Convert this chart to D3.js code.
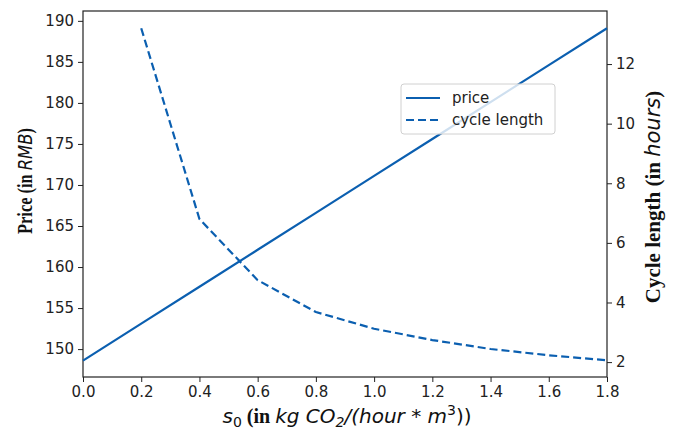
<!DOCTYPE html>
<html>
<head>
<meta charset="utf-8">
<script src="https://cdn.jsdelivr.net/npm/d3@7/dist/d3.min.js"></script>
<style>
  body { margin: 0; background: #fff; }
  svg { display: block; }
  .tick text { font-family: "DejaVu Sans", sans-serif; font-size: 15px; fill: #222; }
  .domain, .tick line { stroke: #222; }
</style>
</head>
<body>
<div id="chart"></div>
<script>
const s0 = [0.0, 0.2, 0.4, 0.6, 0.8, 1.0, 1.2, 1.4, 1.6, 1.8];
const price = [148.6, 153.1, 157.6, 162.1, 166.6, 171.1, 175.6, 180.1, 184.6, 189.1];
const cycleS0 = [0.2, 0.4, 0.6, 0.8, 1.0, 1.2, 1.4, 1.6, 1.8];
const cycleLength = [13.2, 6.8, 4.75, 3.68, 3.12, 2.74, 2.44, 2.23, 2.06];
const xTicks = [0, 0.2, 0.4, 0.6, 0.8, 1.0, 1.2, 1.4, 1.6, 1.8];
const priceTicks = [150, 155, 160, 165, 170, 175, 180, 185, 190];
const cycleTicks = [2, 4, 6, 8, 10, 12];

let width = 677;
let height = 435;
let margin = { top: 11, right: 70, bottom: 58, left: 83 };
let innerW = width - margin.left - margin.right;
let innerH = height - margin.top - margin.bottom;
let blue = "#0b5fb0";

let svg = d3.select("#chart").append("svg")
  .attr("width", width)
  .attr("height", height);

let g = svg.append("g")
  .attr("transform", "translate(" + margin.left + "," + margin.top + ")");

let x = d3.scaleLinear().domain([0, 1.8]).range([0, innerW]);
let yL = d3.scaleLinear().domain([146.6, 191.2]).range([innerH, 0]);
let yR = d3.scaleLinear().domain([1.5, 13.78]).range([innerH, 0]);

// frame
g.append("rect")
  .attr("width", innerW)
  .attr("height", innerH)
  .attr("fill", "none")
  .attr("stroke", "#222")
  .attr("stroke-width", 1.2);

g.append("g")
  .attr("transform", "translate(0," + innerH + ")")
  .call(d3.axisBottom(x).tickValues(xTicks).tickFormat(d3.format(".1f")).tickSizeOuter(0).tickSize(5).tickPadding(4))
  .call(a => a.select(".domain").remove());

g.append("g")
  .call(d3.axisLeft(yL).tickValues(priceTicks).tickSizeOuter(0).tickSize(5).tickPadding(4))
  .call(a => a.select(".domain").remove());

g.append("g")
  .attr("transform", "translate(" + innerW + ",0)")
  .call(d3.axisRight(yR).tickValues(cycleTicks).tickSizeOuter(0).tickSize(5).tickPadding(4))
  .call(a => a.select(".domain").remove());

// lines
let priceLine = d3.line()
  .x((d, i) => x(s0[i]))
  .y(d => yL(d));

let cycleLine = d3.line()
  .x((d, i) => x(cycleS0[i]))
  .y(d => yR(d));

g.append("path")
  .datum(price)
  .attr("d", priceLine)
  .attr("fill", "none")
  .attr("stroke", blue)
  .attr("stroke-width", 2.2);

g.append("path")
  .datum(cycleLength)
  .attr("d", cycleLine)
  .attr("fill", "none")
  .attr("stroke", blue)
  .attr("stroke-width", 2.2)
  .attr("stroke-dasharray", "8,4");

// legend
let legend = svg.append("g").attr("transform", "translate(401,84)");
legend.append("rect")
  .attr("width", 154)
  .attr("height", 50)
  .attr("rx", 3)
  .attr("fill", "#fff")
  .attr("fill-opacity", 0.8)
  .attr("stroke", "#d0d0d0");

let legendItems = [
  { label: "price", dash: null },
  { label: "cycle length", dash: "8,4" }
];
legendItems.forEach((d, i) => {
  let yy = 14 + i * 22;
  legend.append("line")
    .attr("x1", 5).attr("x2", 39)
    .attr("y1", yy).attr("y2", yy)
    .attr("stroke", blue)
    .attr("stroke-width", 2.2)
    .attr("stroke-dasharray", d.dash);
  legend.append("text")
    .attr("x", 51)
    .attr("y", yy + 5)
    .style("font-family", "DejaVu Sans, sans-serif")
    .style("font-size", "15px")
    .style("fill", "#222")
    .text(d.label);
});

// axis titles
let serif = "Liberation Serif, Times New Roman, serif";
let sans = "DejaVu Sans, sans-serif";

let xt = svg.append("text")
  .attr("x", margin.left + innerW / 2 + 2)
  .attr("y", 423)
  .attr("text-anchor", "middle")
  .style("font-size", "20px")
  .style("fill", "#111");
xt.append("tspan").style("font-family", sans).style("font-style", "italic").text("s");
xt.append("tspan").style("font-family", sans).style("font-size", "14px").attr("dy", 4).text("0");
xt.append("tspan").style("font-family", serif).style("font-weight", "bold").attr("dy", -4).text(" (in ");
xt.append("tspan").style("font-family", sans).style("font-style", "italic").text("kg CO");
xt.append("tspan").style("font-family", sans).style("font-style", "italic").style("font-size", "14px").attr("dy", 4).text("2");
xt.append("tspan").style("font-family", sans).style("font-style", "italic").attr("dy", -4).text("/(hour");
xt.append("tspan").style("font-family", sans).text(" * ");
xt.append("tspan").style("font-family", sans).style("font-style", "italic").text("m");
xt.append("tspan").style("font-family", sans).style("font-size", "14px").attr("dy", -8).text("3");
xt.append("tspan").style("font-family", sans).attr("dy", 8).text("))");

let yt = svg.append("text")
  .attr("transform", "translate(32,181) rotate(-90) scale(0.82,1)")
  .attr("text-anchor", "middle")
  .style("font-size", "20px")
  .style("fill", "#111");
yt.append("tspan").style("font-family", serif).style("font-weight", "bold").text("Price (in ");
yt.append("tspan").style("font-family", sans).style("font-style", "italic").text("RMB");
yt.append("tspan").style("font-family", serif).style("font-weight", "bold").text(")");

let rt = svg.append("text")
  .attr("transform", "translate(660,197) rotate(-90)")
  .attr("text-anchor", "middle")
  .style("font-size", "21px")
  .style("fill", "#111");
rt.append("tspan").style("font-family", serif).style("font-weight", "bold").text("Cycle length (in ");
rt.append("tspan").style("font-family", sans).style("font-style", "italic").text("hours");
rt.append("tspan").style("font-family", serif).style("font-weight", "bold").text(")");
</script>
</body>
</html>
